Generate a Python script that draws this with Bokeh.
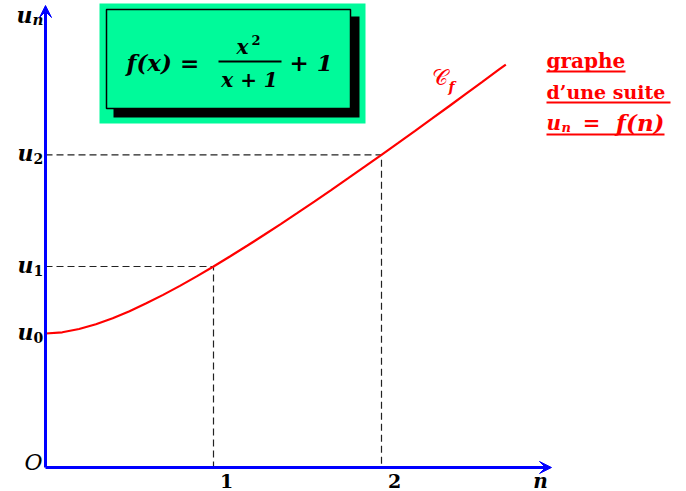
from bokeh.plotting import figure
from bokeh.models import Range1d, Arrow, VeeHead
from bokeh.core.properties import value
from bokeh.embed import file_html
from bokeh.resources import INLINE

# ---- data ----
curve_x = [0.0, 0.1, 0.2, 0.3, 0.4, 0.5, 0.6, 0.7, 0.8, 0.9, 1.0, 1.1, 1.2, 1.3,
           1.4, 1.5, 1.6, 1.7, 1.8, 1.9, 2.0, 2.1, 2.2, 2.3, 2.4, 2.5, 2.6, 2.7, 2.74]
curve_y = [1.0, 1.0091, 1.0333, 1.0692, 1.1143, 1.1667, 1.225, 1.2882, 1.3556, 1.4263,
           1.5, 1.5762, 1.6545, 1.7348, 1.8167, 1.9, 1.9846, 2.0704, 2.1571, 2.2448,
           2.3333, 2.4226, 2.5125, 2.6030, 2.6941, 2.7857, 2.8778, 2.9703, 3.007]
n_vals = [0, 1, 2]
u_vals = [1.0, 1.5, 2.3333]
x_tick_labels = ["1", "2"]
u_subs = ["0", "1", "2"]

# ---- geometry (picture pixel -> data) ----
W, H = 686, 491
X0 = -45 / 168.0
X1 = X0 + W / 168.0
Y1 = 467 / 134.0
Y0 = Y1 - H / 134.0


def dx(px):
    return X0 + px / W * (X1 - X0)


def dy(py):
    return Y1 - py / H * (Y1 - Y0)


p = figure(width=W, height=H, x_range=Range1d(X0, X1), y_range=Range1d(Y0, Y1),
           x_axis_type=None, y_axis_type=None, min_border=0,
           toolbar_location=None, output_backend="svg")
p.outline_line_color = None
p.background_fill_color = "white"
p.border_fill_color = "white"

SERIF = value("DejaVu Serif")


def txt(px, py, s, size, color="black", style="bold italic", align="left", baseline="middle", font=SERIF):
    p.text(x=[dx(px)], y=[dy(py)], text=[s], text_font=font, text_font_size=f"{size}px",
           text_font_style=style, text_color=color, text_align=align, text_baseline=baseline)


# ---- formula box ----
GREEN = "#00FA9A"
p.quad(left=[dx(99)], right=[dx(365)], top=[dy(3)], bottom=[dy(123)],
       fill_color=GREEN, line_color=None)
p.quad(left=[dx(113)], right=[dx(359)], top=[dy(16)], bottom=[dy(117)],
       fill_color="black", line_color=None)
p.quad(left=[dx(106)], right=[dx(350)], top=[dy(9)], bottom=[dy(108)],
       fill_color=GREEN, line_color="black", line_width=1.5)
txt(126, 62, "f(x) =", 23)
txt(236, 46, "x", 20)
txt(251, 39, "2", 13, style="bold")
p.line(x=[dx(218), dx(281)], y=[dy(61), dy(61)], line_color="black", line_width=2)
txt(249, 79, "x + 1", 20, align="center")
txt(289, 62, "+ 1", 23)

# ---- dashed guide lines ----
for n, u in zip(n_vals[1:], u_vals[1:]):
    p.line(x=[0, n, n], y=[u, u, 0], line_color="#222222", line_width=1.2, line_dash="7 4")

# ---- curve ----
p.line(x=curve_x, y=curve_y, line_color="red", line_width=2.2)

# ---- axes arrows ----
p.add_layout(Arrow(end=VeeHead(size=12, fill_color="blue", line_color="blue", line_width=1),
                   x_start=0, y_start=0, x_end=dx(551), y_end=0,
                   line_color="blue", line_width=3))
p.add_layout(Arrow(end=VeeHead(size=12, fill_color="blue", line_color="blue", line_width=1),
                   x_start=0, y_start=0, x_end=0, y_end=dy(5),
                   line_color="blue", line_width=3))

# ---- axis labels ----
txt(32, 14, "u", 22, align="right")
txt(32, 19, "n", 15)
txt(42, 462, "O", 22, style="italic", align="right")
txt(540, 480, "n", 20, align="center")
for n, lab in zip(n_vals[1:], x_tick_labels):
    p.text(x=[n + dx(226) - dx(213)], y=[dy(480)], text=[lab], text_font=SERIF,
           text_font_size="19px", text_font_style="bold", text_color="black",
           text_align="center", text_baseline="middle")
for u, sub in zip(u_vals, u_subs):
    p.text(x=[dx(33)], y=[u + dy(151) - dy(153)], text=["u"], text_font=SERIF,
           text_font_size="22px", text_font_style="bold italic", text_color="black",
           text_align="right", text_baseline="middle")
    p.text(x=[dx(33)], y=[u + dy(157) - dy(153)], text=[sub], text_font=SERIF,
           text_font_size="14px", text_font_style="bold", text_color="black",
           text_align="left", text_baseline="middle")

# ---- curve label ----
txt(431, 77, "𝒞", 22, color="red", style="normal", font=value("DejaVu Sans"))
txt(448, 86, "f", 14, color="red")

# ---- right-hand text ----
txt(546, 60, "graphe", 20, color="red", style="bold")
p.line(x=[dx(546), dx(625)], y=[dy(71), dy(71)], line_color="red", line_width=2)
txt(546, 91, "d’une suite", 19, color="red", style="bold")
p.line(x=[dx(546), dx(670)], y=[dy(102), dy(102)], line_color="red", line_width=2)
txt(546, 122, "u", 20, color="red")
txt(561, 127, "n", 13, color="red")
txt(591, 122, "=", 21, color="red", style="bold", align="center")
txt(664, 122, "f(n)", 23, color="red", align="right")
p.line(x=[dx(546), dx(664)], y=[dy(134), dy(134)], line_color="red", line_width=2)

open("out.html", "w").write(file_html(p, INLINE))
